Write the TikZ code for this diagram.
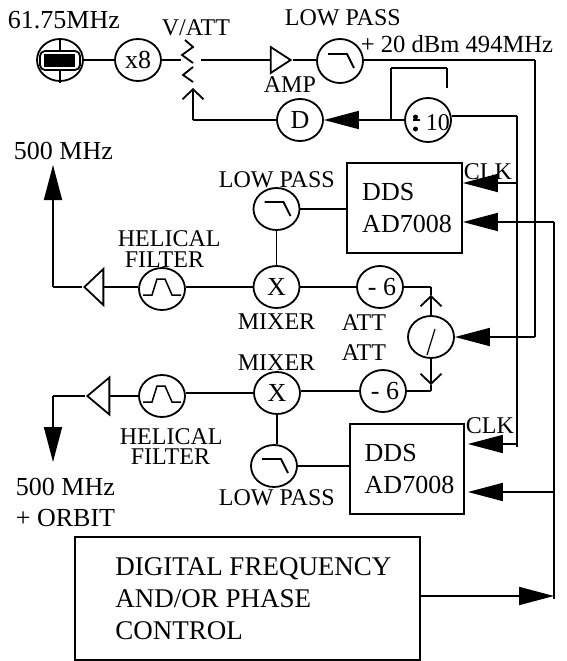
\documentclass[tikz,border=0pt]{standalone}
\usepackage{fontspec}
\setmainfont{Liberation Serif}
\usetikzlibrary{arrows.meta,shapes.geometric,calc}
\begin{document}
\begin{tikzpicture}[x=1pt,y=-1pt,-,>={Triangle[length=35pt,width=18pt]},line width=1.8pt,node distance=78pt,
    main node/.style={ellipse,draw,inner sep=0pt,minimum width=46pt,minimum height=42pt,font=\fontsize{26}{26}\selectfont},
    box node/.style={rectangle,draw,inner sep=0pt,align=left,font=\fontsize{26}{32}\selectfont},
    amp node/.style={isosceles triangle,isosceles triangle stretches,draw,inner sep=0pt,anchor=apex},
    tag node/.style={anchor=west,inner sep=0pt,font=\fontsize{24}{24}\selectfont},
    big tag/.style={tag node,font=\fontsize{26}{26}\selectfont},
    open arrow/.style={-{Straight Barb[length=10pt,width=21pt]}}]

    \useasboundingbox (0,0) rectangle (567,661);

    \node (crystal) [main node] at (60,60) {};
    \node (xeight) [main node,right of=crystal] {x8};
    \node (ampa) [amp node,minimum width=26pt,minimum height=20pt] at (293,60) {};
    \node (lpa) [main node,minimum height=44pt] at (340,61) {};
    \node (delay) [main node] at (300,120) {D};
    \node (divten) [main node,minimum height=44pt] at (428,120) {};
    \node (ten) [tag node] at (425,123) {10};

    \node (lpb) [main node] at (276.5,209) {};
    \node (mixa) [main node] at (276.5,287) {\raisebox{-3pt}{X}};
    \node (hela) [main node] at (162,289) {};
    \node (ampb) [amp node,shape border rotate=180,minimum width=36pt,minimum height=19pt] at (82,287) {};
    \node (atta) [main node] at (380,287) {\raisebox{-4pt}{\hspace{4pt}- 6}};
    \node (phase) [main node] at (431,337) {};
    \node (attb) [main node] at (383,391) {\raisebox{-4pt}{\hspace{4pt}- 6}};
    \node (mixb) [main node] at (277,393) {\raisebox{-1pt}{X}};
    \node (helb) [main node] at (162,396) {};
    \node (ampc) [amp node,shape border rotate=180,minimum width=37pt,minimum height=22pt] at (85,396) {};
    \node (lpc) [main node] at (274,466) {};

    \node (ddsa) [box node,minimum width=115pt,minimum height=90pt] at (404.5,208) {\hspace*{5pt}DDS\\\hspace*{5pt}AD7008};
    \node (ddsb) [box node,minimum width=114pt,minimum height=90pt] at (407,469) {\hspace*{5pt}DDS\\\hspace*{5pt}AD7008};
    \node (control) [box node,minimum width=345pt,minimum height=123pt,font=\fontsize{27}{32}\selectfont] at (247.5,598.5) {\hspace*{12pt}DIGITAL FREQUENCY\\\hspace*{12pt}AND/OR PHASE\\\hspace*{12pt}CONTROL};

    \node (t1) [big tag] at (7,20) {61.75MHz};
    \node (t2) [tag node] at (161,28) {V/ATT};
    \node (t3) [tag node] at (284,18) {LOW PASS};
    \node (t4) [tag node,font=\fontsize{24.6}{24}\selectfont] at (360,44) {+ 20 dBm 494MHz};
    \node (t5) [tag node] at (263,85) {AMP};
    \node (t6) [big tag] at (13,151) {500 MHz};
    \node (t7) [tag node] at (218,180) {LOW PASS};
    \node (t8) [tag node] at (463,172) {CLK};
    \node (t9) [tag node] at (117,239) {HELICAL};
    \node (t10) [tag node] at (124,260) {FILTER};
    \node (t11) [tag node] at (237,322) {MIXER};
    \node (t12) [tag node] at (341,323) {ATT};
    \node (t13) [tag node] at (341,353) {ATT};
    \node (t14) [tag node] at (237,363) {MIXER};
    \node (t15) [tag node] at (465,426) {CLK};
    \node (t16) [tag node] at (119,437) {HELICAL};
    \node (t17) [tag node] at (130,457) {FILTER};
    \node (t18) [big tag] at (15,487) {500 MHz};
    \node (t19) [tag node] at (218,498) {LOW PASS};
    \node (t20) [big tag] at (15,518) {+ ORBIT};

    \coordinate (vatta) at (181,60);
    \coordinate (vattb) at (201,60);
    \coordinate (vattc) at (193,88);
    \coordinate (fbcorner) at (193,120);
    \coordinate (rfcorner) at (535,60);
    \coordinate (rfend) at (535,337);
    \coordinate (fbj) at (391,120);
    \coordinate (fbl) at (391,68);
    \coordinate (fbr) at (447,68);
    \coordinate (fbe) at (447,88);
    \coordinate (clkcorner) at (517,116);
    \coordinate (clkend) at (517,447);
    \coordinate (clka) at (517,183);
    \coordinate (clkb) at (517,444);
    \coordinate (tunecorner) at (554,222);
    \coordinate (tunebot) at (554,599);
    \coordinate (tuneb) at (554,492);
    \coordinate (tunec) at (554,596);
    \coordinate (phup) at (431,295);
    \coordinate (phupc) at (431,287);
    \coordinate (phdn) at (431,385);
    \coordinate (phdnc) at (431,391);
    \coordinate (outa) at (53,287);
    \coordinate (outatip) at (53,165);
    \coordinate (outb) at (53,396);
    \coordinate (outbtip) at (53,462);

    \path
    (crystal) edge (xeight)
    (xeight) edge (vatta)
    (vattb) edge (ampa.lower side)
    (ampa.apex) edge (ampa.apex -| lpa.west)
    (delay) edge (fbcorner)
    (fbcorner) edge[open arrow] (vattc)
    (fbj) edge (fbl)
    (fbl) edge (fbr)
    (fbr) edge (fbe)
    (clkcorner) edge (clkend)
    (lpa.east |- rfcorner) edge (rfcorner)
    (rfcorner) edge (rfend)
    (divten.east |- clkcorner) edge (clkcorner)
    (lpb) edge (ddsa.west |- lpb)
    (lpb) edge (mixa)
    (mixa) edge (mixa -| hela.east)
    (ampb.lower side) edge (ampb.lower side -| hela.west)
    (ampb.apex) edge (outa)
    (mixa) edge (atta)
    (atta) edge (phupc)
    (phupc) edge (phup)
    (phase) edge[open arrow] (phup)
    (phase) edge[open arrow] (phdn)
    (phdn) edge (phdnc)
    (attb) edge (phdnc)
    (mixb.east |- attb) edge (attb)
    (mixb) edge (mixb -| helb.east)
    (helb) edge (ampc.lower side)
    (ampc.apex) edge (outb)
    (mixb) edge (mixb |- lpc.north)
    (lpc) edge (ddsb.west |- lpc)
    (tunecorner) edge (tunebot)
    ;

    \path[->]
    (divten) edge (delay)
    (rfend) edge (phase.east |- rfend)
    (clka) edge (clka -| ddsa.east)
    (tunecorner) edge (tunecorner -| ddsa.east)
    (tuneb) edge[shorten >=3pt] (tuneb -| ddsb.east)
    (control.east |- tunec) edge (tunec)
    (outa) edge (outatip)
    (outb) edge (outbtip)
    (clkb) edge[shorten >=3pt] (clkb -| ddsb.east)
    ;

    % crystal
    \draw[rounded corners=5pt] (40,51) rectangle (80,70);
    \fill (44,54) rectangle (75,67);
    \draw (60,39) -- (60,51) (60,70) -- (60,83);

    % attenuator
    \draw (185,40) -- (193,47) -- (182,55) -- (193,63);
    \draw (193,67) -- (183,75) -- (193,82);

    % divider
    \fill (415.5,117) circle (2.5pt) (415.5,129) circle (2.5pt);
    \draw[line width=1.2pt] (413,120) -- (420,120);

    % phase
    \draw[line width=1.2pt] (435,329) -- (427,355);

    % filters
    \foreach \nm in {lpa,lpb,lpc}
        \draw (\nm.center) ++(-12,-7) -- ++(19,0) -- ++(7,14);
    \foreach \nm in {hela,helb}
        \draw[line width=1.5pt] (\nm.center) ++(-19,6) -- ++(9,0) -- ++(5,-16) -- ++(8,0) -- ++(7,16) -- ++(9,0);
\end{tikzpicture}
\end{document}
